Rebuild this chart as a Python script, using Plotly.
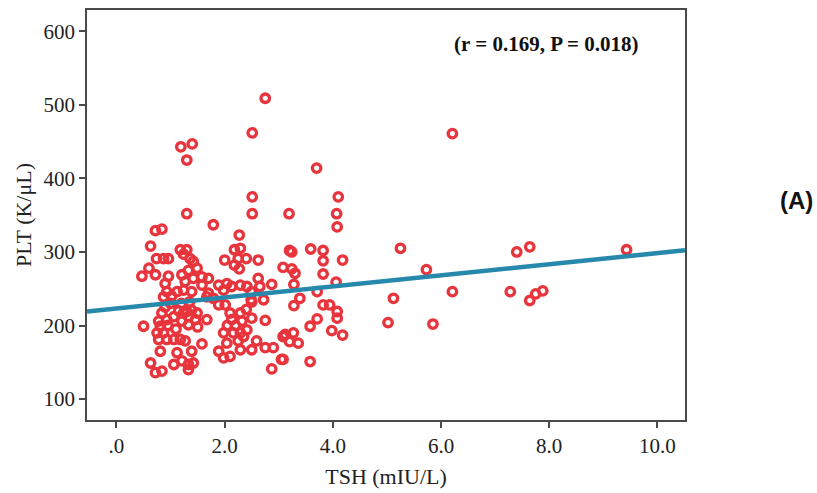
import plotly.graph_objects as go

# TSH (mIU/L) values
tsh = [
    2.75, 2.51, 1.19, 1.40, 1.30, 3.70, 2.51, 4.10, 1.30, 2.51, 3.19, 4.07,
    4.08, 1.79, 0.72, 0.84, 2.27,
    6.21, 5.25, 5.73, 7.40, 7.64, 9.43, 6.21, 5.12, 5.02, 5.85, 7.28, 7.64, 7.75, 7.88,
    3.20, 3.24, 3.59, 3.82, 3.82, 4.18, 3.08, 3.24, 3.30, 3.82, 3.28, 4.06, 3.71,
    3.39, 3.28, 3.82, 3.94, 4.08, 4.08, 3.71, 3.58, 3.98, 4.18, 3.12, 3.27, 3.20,
    3.36, 3.08, 3.58,
    2.18, 2.29, 2.00, 2.25, 2.40, 2.62, 2.18, 2.27, 2.62, 2.87, 1.89, 2.04, 2.13,
    2.29, 2.41, 2.65, 1.98, 1.70, 2.49, 2.72, 1.79, 1.70, 2.49,
    0.63, 1.18, 1.30, 1.24, 0.74, 0.87, 0.96, 1.36, 0.60, 1.42, 0.47, 0.72, 0.96,
    1.21, 1.33, 1.49, 1.58, 0.90, 1.27, 1.42, 1.58, 0.93, 1.12, 1.24, 1.39, 1.67, 0.87,
    0.50, 0.84, 0.78, 0.81, 0.93, 1.06, 1.21, 1.33, 1.39, 1.30, 1.46, 1.33, 0.75,
    0.87, 0.78, 0.93, 1.06, 1.18, 1.27, 0.81, 1.12, 1.39, 1.58, 0.63, 1.06, 1.21,
    1.33, 1.42, 1.33, 0.72, 0.84, 1.24, 1.49, 1.67,
    1.89, 2.01, 2.50, 2.10, 2.29, 2.13, 2.32, 2.50, 2.75, 1.98, 2.16, 2.29, 2.41,
    2.04, 2.25, 2.59, 2.75, 2.90, 1.89, 1.98, 2.10, 2.29, 2.50, 3.08, 3.05, 2.87,
    0.90, 1.00, 0.95, 1.10, 1.15, 1.02, 1.20, 1.35, 1.50, 2.05, 2.20, 2.40, 2.35,
]

# PLT (K/uL) values
plt_vals = [
    509, 462, 443, 447, 425, 414, 375, 375, 352, 352, 352, 352,
    334, 337, 329, 331, 323,
    461, 305, 276, 300, 307, 303, 246, 237, 204, 202, 246, 234, 243, 247,
    302, 300, 304, 302, 288, 289, 279, 277, 271, 270, 256, 259, 246,
    237, 227, 228, 228, 219, 210, 209, 199, 193, 187, 188, 190, 178,
    176, 154, 151,
    303, 305, 289, 291, 291, 289, 282, 277, 264, 256, 255, 257, 253,
    255, 253, 253, 248, 264, 235, 235, 237, 244, 246,
    308, 303, 303, 297, 291, 291, 291, 291, 278, 287, 267, 269, 267,
    269, 275, 278, 266, 257, 260, 264, 255, 246, 246, 248, 246, 239, 239,
    199, 217, 206, 199, 208, 212, 206, 212, 221, 219, 208, 201, 190,
    190, 181, 181, 181, 181, 179, 165, 163, 165, 175, 149, 147, 152,
    147, 149, 140, 136, 138, 217, 217, 208,
    228, 228, 232, 217, 217, 208, 206, 210, 207, 190, 190, 190, 194,
    176, 179, 179, 170, 170, 165, 156, 158, 167, 167, 185, 154, 141,
    225, 230, 200, 195, 220, 240, 230, 232, 198, 200, 200, 222, 185,
]

# Linear fit
fit_intercept = 223.0
fit_slope = 7.54
x_range = [-0.545, 10.51]
y_range = [71.5, 629]

x_ticks = [0, 2, 4, 6, 8, 10]
x_tick_text = [".0", "2.0", "4.0", "6.0", "8.0", "10.0"]
y_ticks = [100, 200, 300, 400, 500, 600]

fig = go.Figure()
fig.add_trace(go.Scatter(
    x=tsh, y=plt_vals, mode="markers",
    marker=dict(symbol="circle-open", size=8.5, color="#e8343c",
                line=dict(width=3.3, color="#e8343c")),
    showlegend=False, hoverinfo="x+y",
))
fig.add_trace(go.Scatter(
    x=x_range, y=[fit_intercept + fit_slope * v for v in x_range],
    mode="lines", line=dict(color="#2689ab", width=4.5),
    showlegend=False, hoverinfo="skip",
))

axis_common = dict(
    showgrid=False, zeroline=False, showline=True, mirror=True,
    linecolor="#4a4a4a", linewidth=1.5, ticks="outside", ticklen=6,
    tickwidth=1.5, tickcolor="#4a4a4a",
    tickfont=dict(family="Liberation Serif", size=21, color="#222"),
)
fig.update_xaxes(range=x_range, tickvals=x_ticks, ticktext=x_tick_text,
                 title=dict(text="TSH (mIU/L)", standoff=12,
                            font=dict(family="Liberation Serif", size=22, color="#222")),
                 **axis_common)
fig.update_yaxes(range=y_range, tickvals=y_ticks,
                 title=dict(text="PLT (K/μL)", standoff=6,
                            font=dict(family="Liberation Serif", size=22, color="#222")),
                 **axis_common)

fig.add_annotation(text="<b>(r = 0.169, P = 0.018)</b>", xref="paper", yref="paper",
                   x=0.769, y=0.918, xanchor="center", yanchor="middle", showarrow=False,
                   font=dict(family="Liberation Serif", size=21, color="#111"))
fig.add_annotation(text="<b>(A)</b>", xref="paper", yref="paper",
                   x=1.187, y=0.535, xanchor="center", yanchor="middle", showarrow=False,
                   font=dict(family="Liberation Sans", size=24, color="#111"))

fig.update_layout(
    width=817, height=493,
    margin=dict(l=87, r=132, t=8, b=72),
    plot_bgcolor="white", paper_bgcolor="white",
)
fig.write_html("out.html", config={"displayModeBar": False},
               post_script="document.body.style.margin='0';")
